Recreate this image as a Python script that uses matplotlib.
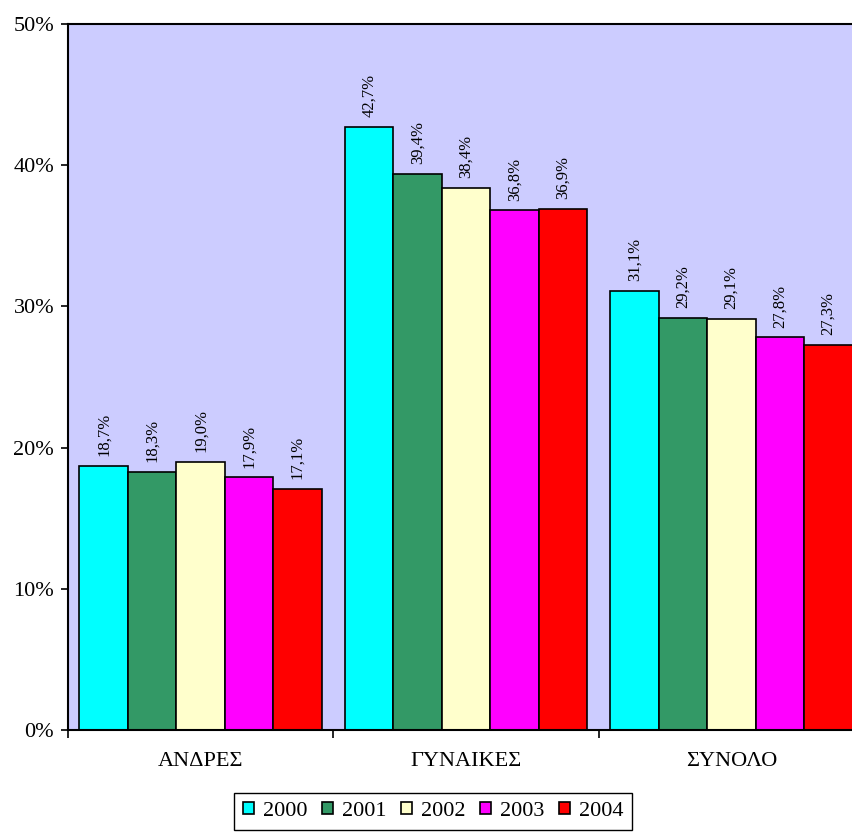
import matplotlib.pyplot as plt
from matplotlib import rcParams as rc
import numpy as np

categories = ['ΑΝΔΡΕΣ', 'ΓΥΝΑΙΚΕΣ', 'ΣΥΝΟΛΟ']
years = ['2000', '2001', '2002', '2003', '2004']
values = {
    '2000': [18.7, 42.7, 31.1],
    '2001': [18.3, 39.4, 29.2],
    '2002': [19.0, 38.4, 29.1],
    '2003': [17.9, 36.8, 27.8],
    '2004': [17.1, 36.9, 27.3],
}
colors = ['#00FFFF', '#339966', '#FFFFCC', '#FF00FF', '#FF0000']
yticks = [0, 10, 20, 30, 40, 50]

rc['font.family'] = ['Liberation Serif', 'DejaVu Serif']

fig = plt.figure(figsize=(8.53, 8.34), dpi=100)
ax = fig.add_axes([68/853, 104/834, 796/853, 706/834])
ax.set_facecolor('#CCCCFF')

x = np.arange(len(categories)) + 0.5
width = 0.1827
for i, y in enumerate(years):
    pos = x + (i - 2) * width
    bars = ax.bar(pos, values[y], width, color=colors[i], edgecolor='black',
                  linewidth=1.2, label=y)
    for b, v in zip(bars, values[y]):
        ax.annotate(f'{v:.1f}%'.replace('.', ','),
                    (b.get_x() + b.get_width() / 2, v),
                    xytext=(0, 7), textcoords='offset points',
                    rotation=90, ha='center', va='bottom', fontsize=12)

ax.set_xlim(0, 3)
ax.set_ylim(0, 50)
ax.set_yticks(yticks)
ax.set_yticklabels([f'{t}%' for t in yticks], fontsize=16)
ax.set_xticks(x)
ax.set_xticklabels(categories, fontsize=16)
ax.tick_params(axis='x', which='major', length=0, pad=16)
ax.set_xticks([0, 1, 2, 3], minor=True)
ax.tick_params(axis='x', which='minor', length=6, width=1.2, direction='out')
ax.tick_params(axis='y', length=5, width=1.2, direction='out', pad=5)
for s in ax.spines.values():
    s.set_linewidth(1.5)

fig.legend(loc='lower center', bbox_to_anchor=(0.508, 0.005), ncol=5,
           fontsize=16, frameon=True, fancybox=False, edgecolor='black',
           handlelength=0.5, handleheight=0.5, handletextpad=0.4,
           columnspacing=0.65, borderpad=0.4, borderaxespad=0,
           framealpha=1)

plt.savefig('out.png', dpi=100)
